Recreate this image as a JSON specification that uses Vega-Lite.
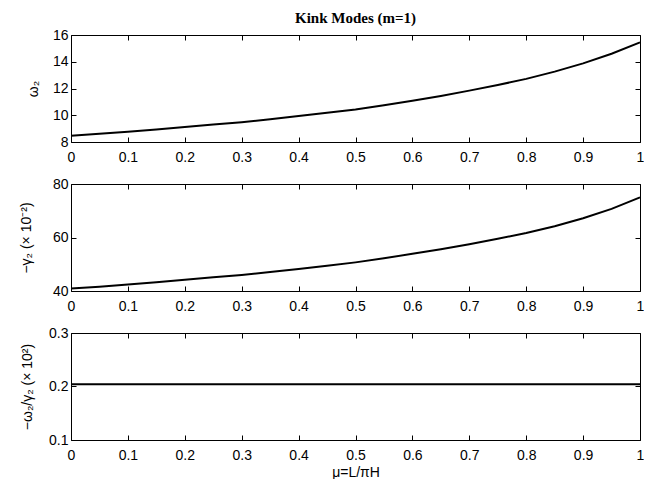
{
  "$schema": "https://vega.github.io/schema/vega-lite/v6.json",
  "padding": {"left": 19, "top": 11, "right": 0, "bottom": 0},
  "background": "white",
  "datasets": {
    "omega": [
      {"mu": 0, "v": 8.47}, {"mu": 0.05, "v": 8.62}, {"mu": 0.1, "v": 8.77}, {"mu": 0.15, "v": 8.94},
      {"mu": 0.2, "v": 9.12}, {"mu": 0.25, "v": 9.3}, {"mu": 0.3, "v": 9.48}, {"mu": 0.35, "v": 9.7},
      {"mu": 0.4, "v": 9.94}, {"mu": 0.45, "v": 10.18}, {"mu": 0.5, "v": 10.43}, {"mu": 0.55, "v": 10.74},
      {"mu": 0.6, "v": 11.08}, {"mu": 0.65, "v": 11.44}, {"mu": 0.7, "v": 11.84}, {"mu": 0.75, "v": 12.26},
      {"mu": 0.8, "v": 12.72}, {"mu": 0.85, "v": 13.26}, {"mu": 0.9, "v": 13.88}, {"mu": 0.95, "v": 14.6},
      {"mu": 1, "v": 15.45}
    ],
    "gamma": [
      {"mu": 0, "v": 40.9}, {"mu": 0.05, "v": 41.6}, {"mu": 0.1, "v": 42.4}, {"mu": 0.15, "v": 43.3},
      {"mu": 0.2, "v": 44.2}, {"mu": 0.25, "v": 45.1}, {"mu": 0.3, "v": 46.0}, {"mu": 0.35, "v": 47.1},
      {"mu": 0.4, "v": 48.2}, {"mu": 0.45, "v": 49.4}, {"mu": 0.5, "v": 50.7}, {"mu": 0.55, "v": 52.2},
      {"mu": 0.6, "v": 53.9}, {"mu": 0.65, "v": 55.6}, {"mu": 0.7, "v": 57.5}, {"mu": 0.75, "v": 59.5},
      {"mu": 0.8, "v": 61.7}, {"mu": 0.85, "v": 64.2}, {"mu": 0.9, "v": 67.2}, {"mu": 0.95, "v": 70.7},
      {"mu": 1, "v": 75.0}
    ],
    "ratio": [
      {"mu": 0, "v": 0.204}, {"mu": 0.1, "v": 0.204}, {"mu": 0.2, "v": 0.204}, {"mu": 0.3, "v": 0.204},
      {"mu": 0.4, "v": 0.204}, {"mu": 0.5, "v": 0.204}, {"mu": 0.6, "v": 0.204}, {"mu": 0.7, "v": 0.204},
      {"mu": 0.8, "v": 0.204}, {"mu": 0.9, "v": 0.204}, {"mu": 1, "v": 0.204}
    ]
  },
  "config": {
    "font": "Liberation Sans",
    "view": {"stroke": null},
    "axis": {
      "grid": false,
      "domainColor": "black", "domainWidth": 1,
      "tickColor": "black", "tickWidth": 1, "tickSize": -5,
      "labelColor": "black", "labelFont": "Liberation Sans", "labelFontSize": 14,
      "labelPadding": 9, "labelFlush": false, "labelOverlap": false,
      "titleColor": "black", "titleFont": "Liberation Sans", "titleFontSize": 14, "titleFontWeight": "normal"
    },
    "axisX": {"labelPadding": 13},
    "axisY": {"labelPadding": 8},
    "title": {"font": "Liberation Serif", "fontSize": 15, "fontWeight": "bold", "color": "black"}
  },
  "spacing": 13,
  "vconcat": [
    {
      "width": 569, "height": 107,
      "title": {"text": "Kink Modes (m=1)", "anchor": "middle", "offset": 2},
      "data": {"name": "omega"},
      "layer": [
        {
          "mark": {"type": "line", "color": "black", "strokeWidth": 2},
          "encoding": {
            "x": {"field": "mu", "type": "quantitative", "scale": {"domain": [0, 1], "nice": false},
                  "axis": {"orient": "bottom", "title": null, "values": [0,0.1,0.2,0.3,0.4,0.5,0.6,0.7,0.8,0.9,1], "format": ".1~f"}},
            "y": {"field": "v", "type": "quantitative", "scale": {"domain": [8, 16], "nice": false, "zero": false},
                  "axis": {"orient": "left", "title": "ω₂", "titlePadding": 12, "values": [8,10,12,14,16]}}
          }
        },
        {
          "mark": {"type": "line", "opacity": 0},
          "encoding": {
            "x": {"field": "mu", "type": "quantitative",
                  "axis": {"orient": "top", "title": null, "labels": false, "values": [0,0.1,0.2,0.3,0.4,0.5,0.6,0.7,0.8,0.9,1]}},
            "y": {"field": "v", "type": "quantitative",
                  "axis": {"orient": "right", "title": null, "labels": false, "values": [8,10,12,14,16]}}
          }
        }
      ],
      "resolve": {"axis": {"x": "independent", "y": "independent"}}
    },
    {
      "width": 569, "height": 107,
      "data": {"name": "gamma"},
      "layer": [
        {
          "mark": {"type": "line", "color": "black", "strokeWidth": 2},
          "encoding": {
            "x": {"field": "mu", "type": "quantitative", "scale": {"domain": [0, 1], "nice": false},
                  "axis": {"orient": "bottom", "title": null, "values": [0,0.1,0.2,0.3,0.4,0.5,0.6,0.7,0.8,0.9,1], "format": ".1~f"}},
            "y": {"field": "v", "type": "quantitative", "scale": {"domain": [40, 80], "nice": false, "zero": false},
                  "axis": {"orient": "left", "title": "−γ₂ (× 10⁻²)", "titlePadding": 19, "values": [40,60,80]}}
          }
        },
        {
          "mark": {"type": "line", "opacity": 0},
          "encoding": {
            "x": {"field": "mu", "type": "quantitative",
                  "axis": {"orient": "top", "title": null, "labels": false, "values": [0,0.1,0.2,0.3,0.4,0.5,0.6,0.7,0.8,0.9,1]}},
            "y": {"field": "v", "type": "quantitative",
                  "axis": {"orient": "right", "title": null, "labels": false, "values": [40,60,80]}}
          }
        }
      ],
      "resolve": {"axis": {"x": "independent", "y": "independent"}}
    },
    {
      "width": 569, "height": 107,
      "data": {"name": "ratio"},
      "layer": [
        {
          "mark": {"type": "line", "color": "black", "strokeWidth": 2},
          "encoding": {
            "x": {"field": "mu", "type": "quantitative", "scale": {"domain": [0, 1], "nice": false},
                  "axis": {"orient": "bottom", "title": "μ=L/πH", "titlePadding": 3, "values": [0,0.1,0.2,0.3,0.4,0.5,0.6,0.7,0.8,0.9,1], "format": ".1~f"}},
            "y": {"field": "v", "type": "quantitative", "scale": {"domain": [0.1, 0.3], "nice": false, "zero": false},
                  "axis": {"orient": "left", "title": "−ω₂/γ₂ (× 10²)", "titlePadding": 14, "values": [0.1,0.2,0.3], "format": ".1f"}}
          }
        },
        {
          "mark": {"type": "line", "opacity": 0},
          "encoding": {
            "x": {"field": "mu", "type": "quantitative",
                  "axis": {"orient": "top", "title": null, "labels": false, "values": [0,0.1,0.2,0.3,0.4,0.5,0.6,0.7,0.8,0.9,1]}},
            "y": {"field": "v", "type": "quantitative",
                  "axis": {"orient": "right", "title": null, "labels": false, "values": [0.1,0.2,0.3]}}
          }
        }
      ],
      "resolve": {"axis": {"x": "independent", "y": "independent"}}
    }
  ]
}
